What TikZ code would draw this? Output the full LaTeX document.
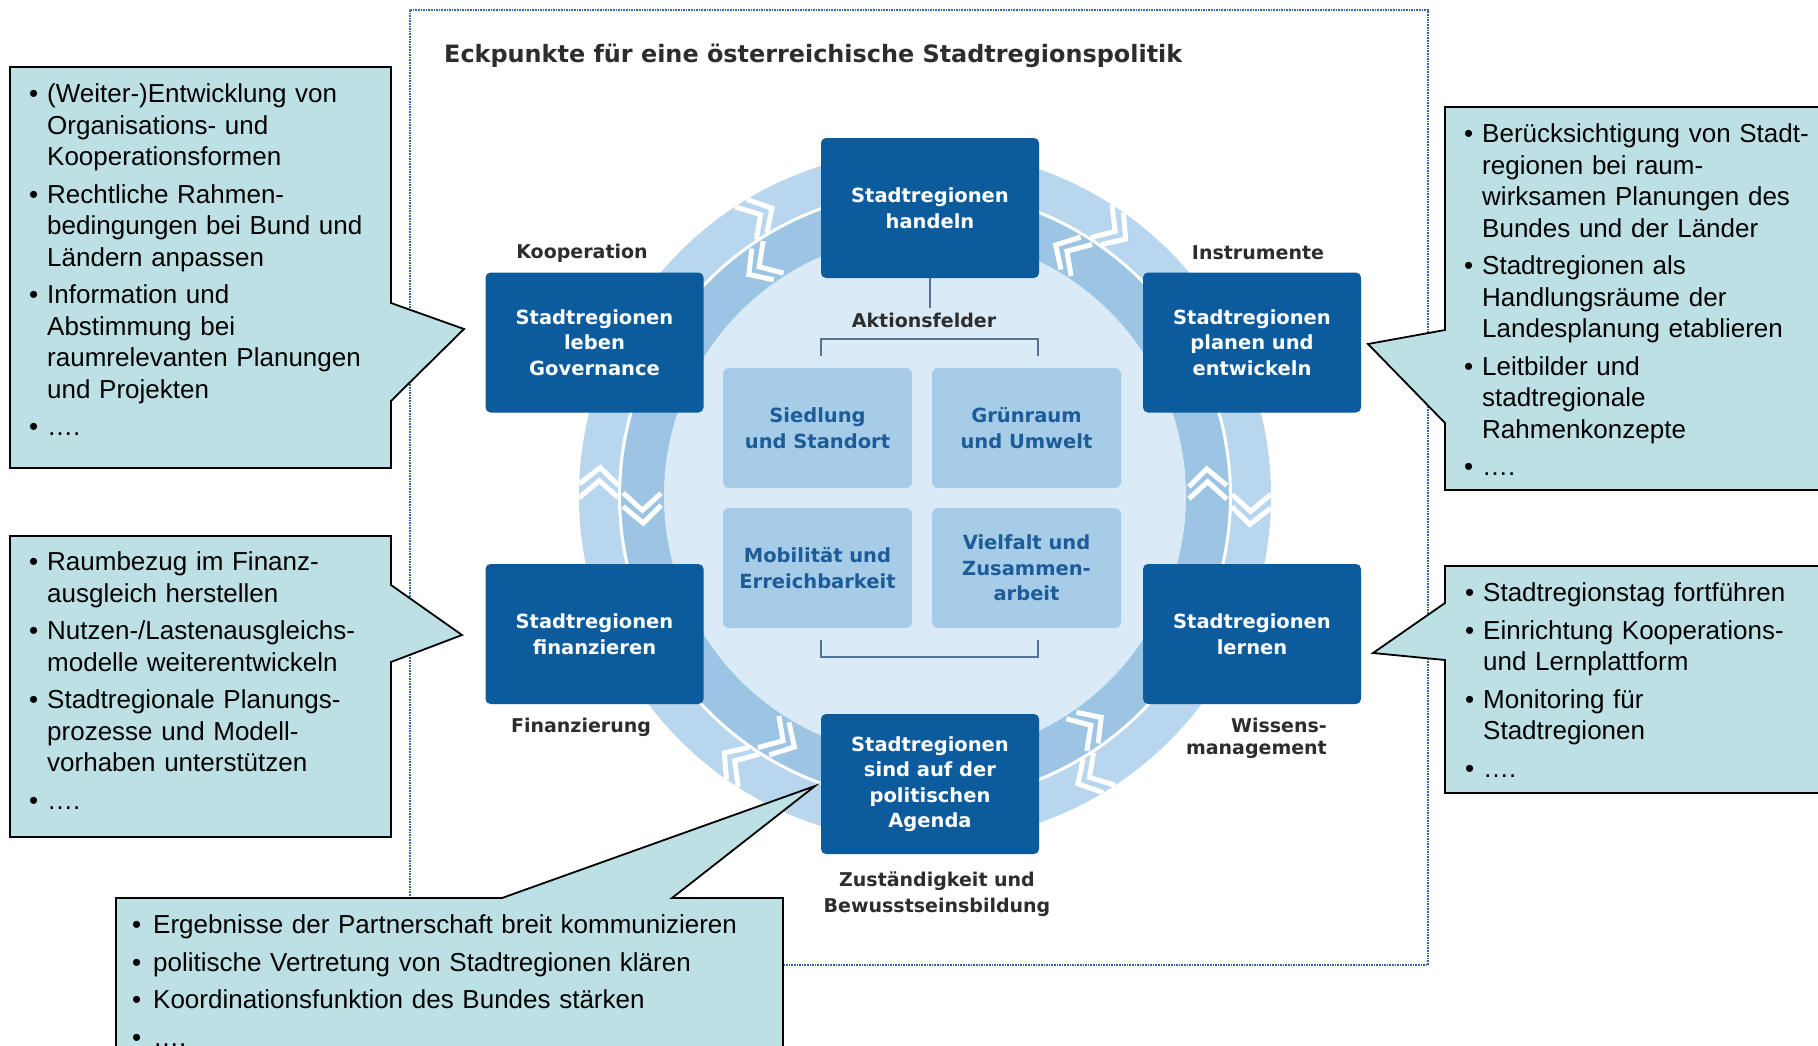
\documentclass[tikz,border=0pt]{standalone}
\usepackage{fontspec}
\setmainfont{Liberation Sans}
\newfontfamily\djv{DejaVu Sans}
\usetikzlibrary{calc}
\definecolor{boxblue}{RGB}{11,91,157}
\definecolor{tileblue}{RGB}{166,204,232}
\definecolor{tiletext}{RGB}{28,92,152}
\definecolor{discc}{RGB}{218,234,246}
\definecolor{bandin}{RGB}{156,197,228}
\definecolor{bandout}{RGB}{184,214,237}
\definecolor{callfill}{RGB}{189,224,228}
\definecolor{framec}{RGB}{55,100,150}
\definecolor{labc}{RGB}{45,45,45}
\definecolor{brack}{RGB}{85,115,150}
\newlength\bind
\setlength\bind{18pt}
\newcommand\bitem[1]{\par\noindent\hangindent=\bind\hangafter=1\makebox[\bind][l]{•}#1\par}
\begin{document}
\begin{tikzpicture}[x=1pt,y=1pt,
  mainbox/.style={fill=boxblue, rounded corners=5pt, minimum width=218pt, minimum height=140pt, inner sep=0pt, text=white, align=center, font=\djv\bfseries\fontsize{19.5}{25.5}\selectfont},
  tilebox/.style={fill=tileblue, rounded corners=6pt, minimum width=189pt, minimum height=120pt, inner sep=0pt, text=tiletext, align=center, font=\djv\bfseries\fontsize{19.5}{25.5}\selectfont},
  lab/.style={text=labc, font=\djv\bfseries\fontsize{19}{25.5}\selectfont, inner sep=0pt},
  bubble/.style={fill=callfill, draw=black, line width=1.8pt, line join=miter},
  calltext/.style={anchor=base west, inner sep=0pt, text width=#1, align=left, font=\fontsize{26}{31.5}\selectfont},
  chev/.style={draw=white, line width=5pt, line join=miter},
  brk/.style={draw=brack, line width=1.5pt},
]
\useasboundingbox (0,0) rectangle (1818,-1045);
\clip (0,0) rectangle (1818,-1045);
\fill[white] (0,0) rectangle (1818,-1045);

% frame
\draw[framec, line width=1.6pt, densely dotted] (410,-10) rectangle (1428,-965);

% title
\node[anchor=base west, inner sep=0pt, font=\djv\bfseries\fontsize{23.9}{28}\selectfont, text=labc] (title) at (444,-62) {Eckpunkte für eine österreichische Stadtregionspolitik};

% ring
\begin{scope}[shift={(925,-496)}]
  \fill[bandout] (0,0) circle[radius=346];
  \fill[bandin] (0,0) circle[radius=304];
  \draw[white, line width=3pt] (0,0) circle[radius=305.5];
  \fill[discc] (0,0) circle[radius=261];
  \foreach \t in {0,57,123,180,237,303} {
    \foreach \s in {0,2.3} {
      \draw[chev] ({\t-2+\s}:307) -- ({\t-2+\s-3}:326) -- ({\t-2+\s}:346);
    }
    \foreach \s in {0,2.6} {
      \draw[chev] ({\t+2-\s}:264) -- ({\t+2-\s+3.5}:283) -- ({\t+2-\s}:302);
    }
  }
\end{scope}

% main boxes
\node[mainbox] (top) at (930,-208) {Stadtregionen\\handeln};
\node[mainbox] (gov) at (594.5,-342.5) {Stadtregionen\\leben\\Governance};
\node[mainbox] (plan) at (1252,-342.5) {Stadtregionen\\planen und\\entwickeln};
\node[mainbox] (fin) at (594.5,-634) {Stadtregionen\\finanzieren};
\node[mainbox] (lern) at (1252,-634) {Stadtregionen\\lernen};
\node[mainbox] (agenda) at (930,-784) {Stadtregionen\\sind auf der\\politischen\\Agenda};

% labels
\node[lab] (lkoop) at (582,-253) {Kooperation};
\node[lab] (linst) at (1258,-253) {Instrumente};
\node[lab] (lfin) at (581,-727) {Finanzierung};
\node[lab, align=right, anchor=east, font=\djv\bfseries\fontsize{19}{22}\selectfont] (lwis) at (1327,-738) {Wissens-\\management};
\node[lab, align=center] (lzust) at (937,-894) {Zuständigkeit und\\Bewusstseinsbildung};
\node[lab] (akt) at (924,-320) {Aktionsfelder};
\draw[brk, shorten >=4pt] (top.south) -- (top.south |- akt.north);

% tiles
\node[tilebox] (sied) at (817.5,-428) {Siedlung\\und Standort};
\node[tilebox] (gruen) at (1026.5,-428) {Grünraum\\und Umwelt};
\node[tilebox] (mob) at (817.5,-568) {Mobilität und\\Erreichbarkeit};
\node[tilebox] (viel) at (1026.5,-568) {Vielfalt und\\Zusammen-\\arbeit};
\draw[brk] (821,-356) |- (1038,-339) -- (1038,-356);
\draw[brk] (821,-640) |- (1038,-657) -- (1038,-640);

% callouts
\filldraw[bubble] (10,-67) -- (391,-67) -- (391,-303) -- (464,-329) -- (391,-401) -- (391,-468) -- (10,-468) -- cycle;
\node[calltext=380pt] (c1) at (29,-65) {\setlength\parskip{6pt}%
\bitem{(Weiter-)Entwicklung von\newline Organisations- und\newline Kooperationsformen}%
\bitem{Rechtliche Rahmen-\newline bedingungen bei Bund und\newline Ländern anpassen}%
\bitem{Information und\newline Abstimmung bei\newline raumrelevanten Planungen\newline und Projekten}%
\bitem{….}};

\filldraw[bubble] (10,-536) -- (391,-536) -- (391,-585) -- (462,-635) -- (391,-662) -- (391,-837) -- (10,-837) -- cycle;
\node[calltext=380pt] (c2) at (29,-533) {\setlength\parskip{6pt}%
\bitem{Raumbezug im Finanz-\newline ausgleich herstellen}%
\bitem{Nutzen-/Lastenausgleichs-\newline modelle weiterentwickeln}%
\bitem{Stadtregionale Planungs-\newline prozesse und Modell-\newline vorhaben unterstützen}%
\bitem{….}};

\filldraw[bubble] (1445,-107) -- (1835,-107) -- (1835,-490) -- (1445,-490) -- (1445,-423) -- (1368,-344) -- (1445,-330) -- cycle;
\node[calltext=400pt] (c3) at (1464,-105) {\setlength\parskip{6pt}%
\bitem{Berücksichtigung von Stadt-\newline regionen bei raum-\newline wirksamen Planungen des\newline Bundes und der Länder}%
\bitem{Stadtregionen als\newline Handlungsräume der\newline Landesplanung etablieren}%
\bitem{Leitbilder und\newline stadtregionale\newline Rahmenkonzepte}%
\bitem{….}};

\filldraw[bubble] (1445,-566) -- (1835,-566) -- (1835,-793) -- (1445,-793) -- (1445,-660) -- (1373,-653) -- (1445,-603) -- cycle;
\node[calltext=400pt] (c4) at (1465,-564) {\setlength\parskip{6pt}%
\bitem{Stadtregionstag fortführen}%
\bitem{Einrichtung Kooperations-\newline und Lernplattform}%
\bitem{Monitoring für\newline Stadtregionen}%
\bitem{….}};

\filldraw[bubble] (116,-898) -- (502,-898) -- (815,-786) -- (672,-898) -- (783,-898) -- (783,-1070) -- (116,-1070) -- cycle;
\node[calltext=640pt] (c5) at (132,-896) {\setlength\parskip{6pt}\setlength\bind{21pt}%
\bitem{Ergebnisse der Partnerschaft breit kommunizieren}%
\bitem{politische Vertretung von Stadtregionen klären}%
\bitem{Koordinationsfunktion des Bundes stärken}%
\bitem{….}};
\end{tikzpicture}
\end{document}
